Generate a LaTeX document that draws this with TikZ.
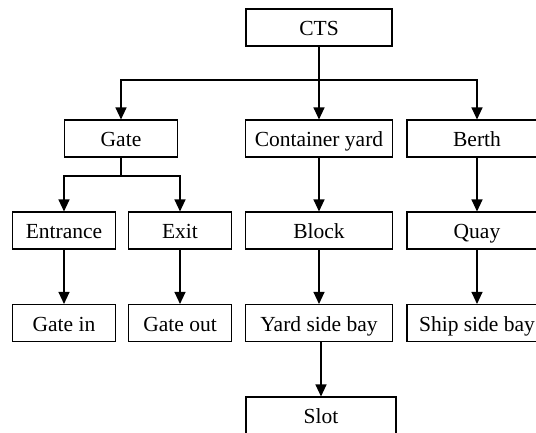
\documentclass[tikz,border=0pt]{standalone}
\usepackage{fontspec}
\setmainfont{Liberation Serif}
\usetikzlibrary{arrows.meta,positioning,calc}

\begin{document}
\begin{tikzpicture}[
    x=1pt, y=-1pt,
    box/.style={draw, line width=1.1pt, minimum height=37pt, inner sep=0pt, text height=17pt, text depth=1pt, font=\fontsize{21.5}{24}\selectfont},
    wire/.style={line width=1.1pt, -{Triangle[length=12pt,width=11pt]}}
  ]
  \clip (0,0) rectangle (536,432);

  \node[box, minimum width=146pt] (cts) at (319,27.5) {CTS};

  \node[box, minimum width=113pt] (gate) at (121,138.5) {Gate};
  \node[box, minimum width=147pt] (cy) at (319,138.5) {Container yard};
  \node[box, minimum width=140pt] (berth) at (477,138.5) {Berth};

  \node[box, minimum width=103pt] (entrance) at (64,230.5) {Entrance};
  \node[box, minimum width=103pt] (exit) at (180,230.5) {Exit};
  \node[box, minimum width=147pt] (block) at (319,230.5) {Block};
  \node[box, minimum width=140pt] (quay) at (477,230.5) {Quay};

  \node[box, minimum width=103pt] (gatein) at (64,323) {Gate in};
  \node[box, minimum width=103pt] (gateout) at (180,323) {Gate out};
  \node[box, minimum width=147pt] (ysb) at (319,323) {Yard side bay};
  \node[box, minimum width=140pt] (ssb) at (477,323) {Ship side bay};

  \node[box, minimum width=150pt] (slot) at (321,415.5) {Slot};

  % top level
  \coordinate (bus) at (319,80);
  \draw[wire] (cts) -- (cy);
  \draw[wire] (bus) -| (gate);
  \draw[wire] (bus) -| (berth);

  % gate branch
  \coordinate (gbus) at (121,176);
  \draw[line width=1.1pt] (gate) -- (gbus);
  \draw[wire] (gbus) -| (entrance);
  \draw[wire] (gbus) -| (exit);
  \draw[wire] (entrance) -- (gatein);
  \draw[wire] (exit) -- (gateout);

  % yard and berth
  \draw[wire] (cy) -- (block);
  \draw[wire] (block) -- (ysb);
  \draw[wire] (ysb.south -| slot) -- (slot);
  \draw[wire] (berth) -- (quay);
  \draw[wire] (quay) -- (ssb);
\end{tikzpicture}
\end{document}
